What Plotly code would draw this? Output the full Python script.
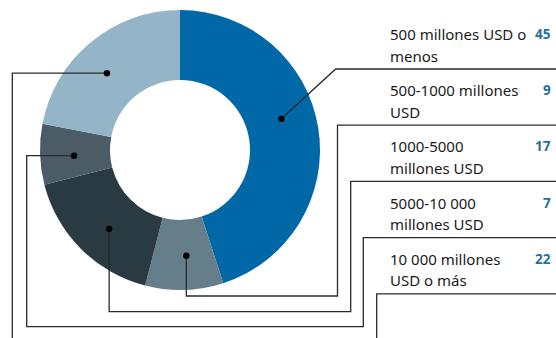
import math
import plotly.graph_objects as go

# Company size bands and their share (%)
categories = [
    "500 millones USD o menos",
    "500-1000 millones USD",
    "1000-5000 millones USD",
    "5000-10 000 millones USD",
    "10 000 millones USD o más",
]
values = [45, 9, 17, 7, 22]
label_lines = [
    ["500 millones USD o", "menos"],
    ["500-1000 millones", "USD"],
    ["1000-5000", "millones USD"],
    ["5000-10 000", "millones USD"],
    ["10 000 millones", "USD o más"],
]
colors = ["#0168a8", "#667d8a", "#293a42", "#4b5c67", "#94b5c8"]

W, H = 556, 338
CX, CY, R = 180, 150, 140
FONT = "Noto Sans"
LINE = "#2a2a2a"


def px(x):
    return x / W


def py(y):
    return 1 - y / H


fig = go.Figure()
fig.add_trace(go.Pie(
    labels=categories, values=values, sort=False, direction="clockwise",
    rotation=0, hole=0.5, marker=dict(colors=colors, line=dict(width=0)),
    textinfo="none", hoverinfo="label+value", showlegend=False,
    domain=dict(x=[px(CX - R), px(CX + R)], y=[py(CY + R), py(CY - R)]),
))

# anchor point of each leader inside its slice
total = sum(values)
anchors = []
cum = 0
for v in values:
    ang = math.radians((cum + 0.45 * v) / total * 360)
    rr = 106
    anchors.append((CX + rr * math.sin(ang), CY - rr * math.cos(ang)))
    cum += v

row0, row_step = 34, 56.2
sep_y = [row0 + i * row_step + 35 for i in range(len(values))]

routes = []
ax, ay = anchors[0]
routes.append([(ax, ay), (335.7, sep_y[0]), (W, sep_y[0])])
ax, ay = anchors[1]
routes.append([(ax, ay), (ax, 296), (337.5, 296), (337.5, sep_y[1]), (W, sep_y[1])])
ax, ay = anchors[2]
routes.append([(ax, ay), (ax, 311.7), (350.7, 311.7), (350.7, sep_y[2]), (W, sep_y[2])])
ax, ay = anchors[3]
routes.append([(ax, ay), (26.7, ay), (26.7, 326.7), (363.3, 326.7), (363.3, sep_y[3]), (W, sep_y[3])])
ax, ay = anchors[4]
routes.append([(ax, ay), (12.3, ay), (12.3, H + 10), (376.7, H + 10), (376.7, sep_y[4]), (W, sep_y[4])])

shapes = []
for pts in routes:
    path = "M " + " L ".join(f"{px(x):.5f},{py(y):.5f}" for x, y in pts)
    shapes.append(dict(type="path", xref="paper", yref="paper", path=path,
                       line=dict(color=LINE, width=1.3), layer="above"))
for x, y in anchors:
    r = 3.2
    shapes.append(dict(type="circle", xref="paper", yref="paper",
                       x0=px(x - r), x1=px(x + r), y0=py(y + r), y1=py(y - r),
                       fillcolor="#000000", line=dict(width=0), layer="above"))

annotations = []
for i, (lines, v) in enumerate(zip(label_lines, values)):
    y1 = row0 + i * row_step
    for j, t in enumerate(lines):
        annotations.append(dict(
            x=px(388), y=py(y1 + j * 21.5), xref="paper", yref="paper",
            xanchor="left", yanchor="middle", text=t, showarrow=False,
            font=dict(family=FONT, size=15, color="#1a1a1a"),
        ))
    annotations.append(dict(
        x=px(553), y=py(y1), xref="paper", yref="paper",
        xanchor="right", yanchor="middle", text=f"<b>{v}</b>", showarrow=False,
        font=dict(family=FONT, size=13.5, color="#1f6fa8"),
    ))

fig.update_layout(
    width=W, height=H, margin=dict(l=0, r=0, t=0, b=0),
    paper_bgcolor="white", plot_bgcolor="white",
    shapes=shapes, annotations=annotations,
)

fig.write_html("out.html")
